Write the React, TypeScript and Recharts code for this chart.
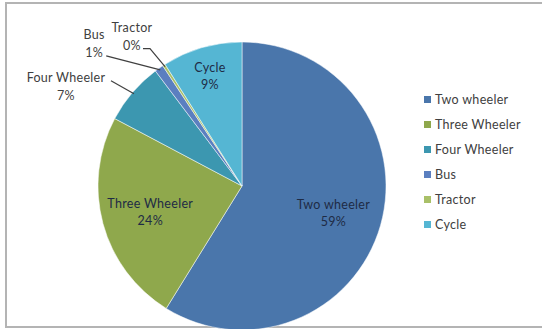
import { PieChart, Pie, Cell, Legend } from "recharts";

// vehicle share
const categories = ["Two wheeler", "Three Wheeler", "Four Wheeler", "Bus", "Tractor", "Cycle"];
const shares = [59, 24, 7, 1, 0.3, 9];
const colors = ["#4A76AB", "#8FA84C", "#3C97B0", "#5B7FC0", "#A9C068", "#55B6D3"];

const data = categories.map((name, i) => ({ name, value: shares[i] }));

const RAD = Math.PI / 180;
const FONT = "Lato, 'Open Sans', sans-serif";
const FS = 12.5;

// inside labels: radius as fraction of outer radius; outside labels: text anchored off the edge point
const insideRadius: Record<number, number> = { 0: 0.66, 1: 0.66, 5: 0.8 };
const outside: Record<number, { dx: number; dy: number; half: number; lineDy: number; elbow?: number }> = {
  2: { dx: -68, dy: -9, half: 43, lineDy: -4 },
  3: { dx: -66, dy: -28, half: 10, lineDy: 14 },
  4: { dx: -33, dy: -32, half: 9, lineDy: 14, elbow: 7 },
};

function renderLabel(props: any) {
  const { cx, cy, midAngle, outerRadius, percent, index, name } = props;
  const pct = `${Math.round(percent * 100)}%`;
  const cos = Math.cos(-midAngle * RAD);
  const sin = Math.sin(-midAngle * RAD);
  if (insideRadius[index] !== undefined) {
    const r = outerRadius * insideRadius[index];
    const x = cx + r * cos;
    const y = cy + r * sin;
    return (
      <text x={x} y={y} textAnchor="middle" fill="#1e2b45" fontSize={FS} fontFamily={FONT} letterSpacing={0.3}>
        <tspan x={x} dy={-3}>{name}</tspan>
        <tspan x={x} dy={17}>{pct}</tspan>
      </text>
    );
  }
  const o = outside[index];
  if (!o) return null;
  const ex = cx + (outerRadius - 2) * cos;
  const ey = cy + (outerRadius - 2) * sin;
  const tx = ex + o.dx;
  const ty = ey + o.dy;
  const lx = tx + o.half + 2;
  const ly = ty + o.lineDy;
  const pts = o.elbow
    ? `${lx},${ly} ${lx + o.elbow},${ly} ${ex},${ey}`
    : `${lx},${ly} ${ex},${ey}`;
  return (
    <g>
      <polyline points={pts} fill="none" stroke="#404040" strokeWidth={1.2} />
      <text x={tx} y={ty} textAnchor="middle" fill="#404040" fontSize={FS} fontFamily={FONT} letterSpacing={0.3}>
        <tspan x={tx} dy={-3}>{name}</tspan>
        <tspan x={tx} dy={18}>{pct}</tspan>
      </text>
    </g>
  );
}

function renderLegend() {
  return (
    <div style={{ fontFamily: FONT, fontSize: FS, color: "#404040", letterSpacing: 0.3 }}>
      {categories.map((c, i) => (
        <div key={c} style={{ display: "flex", alignItems: "center", height: 25 }}>
          <span style={{ display: "inline-block", width: 7, height: 7, background: colors[i], marginRight: 4 }} />
          {c}
        </div>
      ))}
    </div>
  );
}

export default function App() {
  return (
    <div style={{ position: "absolute", left: 0, top: 0, width: 542, height: 329, background: "#fff", overflow: "hidden" }}>
      <div
        style={{
          position: "absolute",
          left: 5,
          top: 2,
          width: 545,
          height: 322,
          border: "2px solid #b4b4b4",
        }}
      />
      <PieChart width={542} height={329} style={{ position: "absolute", left: 0, top: 0 }}>
        <Pie
          data={data}
          dataKey="value"
          nameKey="name"
          cx={237}
          cy={181}
          outerRadius={144}
          startAngle={90}
          endAngle={-270}
          stroke="#ffffff"
          strokeWidth={0.5}
          label={renderLabel}
          labelLine={false}
          isAnimationActive={false}
        >
          {data.map((d, i) => (
            <Cell key={d.name} fill={colors[i]} />
          ))}
        </Pie>
        <Legend
          layout="vertical"
          content={renderLegend}
          wrapperStyle={{ left: 424, top: 87, width: 118 }}
        />
      </PieChart>
    </div>
  );
}
